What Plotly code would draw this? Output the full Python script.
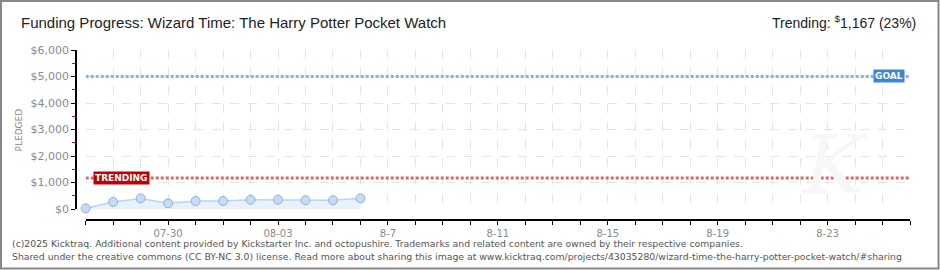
import plotly.graph_objects as go
import pandas as pd

# ---- data ----
dates = ["2025-07-27", "2025-07-28", "2025-07-29", "2025-07-30", "2025-07-31",
         "2025-08-01", "2025-08-02", "2025-08-03", "2025-08-04", "2025-08-05", "2025-08-06"]
pledged = [25, 265, 400, 215, 300, 300, 350, 350, 330, 330, 405]
goal = 5000
trending = 1167
x_start = "2025-07-27"
x_end = "2025-08-26"
label_dates = ["2025-07-30", "2025-08-03", "2025-08-07", "2025-08-11",
               "2025-08-15", "2025-08-19", "2025-08-23"]
label_texts = ["07-30", "08-03", "8-7", "8-11", "8-15", "8-19", "8-23"]
y_ticks = [0, 1000, 2000, 3000, 4000, 5000, 6000]
y_tick_labels = ["$0", "$1,000", "$2,000", "$3,000", "$4,000", "$5,000", "$6,000"]

W, H = 940, 270
px = lambda v: v / W
py = lambda v: 1 - v / H

all_days = pd.date_range(x_start, x_end, freq="D")
lab = dict(zip(pd.to_datetime(label_dates), label_texts))
tickvals = list(all_days)
ticktext = [lab.get(d, "") for d in all_days]

fig = go.Figure()
fig.add_trace(go.Scatter(
    x=dates, y=pledged, mode="lines+markers",
    line=dict(color="#b9d5f2", width=1.5),
    fill="tozeroy", fillcolor="rgba(214,232,252,0.55)",
    marker=dict(size=9, color="#c4dcf6", line=dict(color="#8cb1da", width=1)),
    cliponaxis=False, showlegend=False, hoverinfo="x+y"))

font_main = "DejaVu Sans, Verdana, sans-serif"
font_title = "Liberation Sans, Arial, sans-serif"

fig.update_layout(
    width=W, height=H, margin=dict(l=0, r=0, t=0, b=0, pad=0), autosize=False,
    paper_bgcolor="white", plot_bgcolor="white", showlegend=False,
    xaxis=dict(
        domain=[px(85.7), px(910)], range=[x_start, x_end],
        anchor="free", position=py(220), automargin=False,
        tickmode="array", tickvals=tickvals, ticktext=ticktext,
        ticks="outside", ticklen=4, tickcolor="black", tickwidth=1,
        showline=True, linecolor="black", linewidth=1.5,
        showgrid=True, gridcolor="#e4e4e4", griddash="dash", gridwidth=1,
        zeroline=False,
        tickfont=dict(family=font_main, size=10, color="#8a8a8a")),
    yaxis=dict(
        domain=[py(209), py(50)], range=[0, 6000],
        anchor="free", position=px(76), automargin=False,
        tickmode="array", tickvals=y_ticks, ticktext=y_tick_labels,
        ticks="outside", ticklen=4, tickcolor="black", tickwidth=1,
        showline=True, linecolor="black", linewidth=1.5,
        showgrid=True, gridcolor="#e4e4e4", griddash="dash", gridwidth=1,
        zeroline=False,
        minor=dict(tickmode="linear", tick0=500, dtick=1000, ticks="outside",
                   ticklen=3, tickcolor="#d01010", showgrid=False),
        tickfont=dict(family=font_main, size=11, color="#8a8a8a")),
)

# goal and trending reference lines
fig.add_shape(type="line", xref="x", yref="y", x0=x_start, x1=x_end, y0=goal, y1=goal,
              line=dict(color="#86b2e2", width=3, dash="3px,2px"))
fig.add_shape(type="line", xref="x", yref="y", x0=x_start, x1=x_end, y0=trending, y1=trending,
              line=dict(color="#d46a6a", width=3, dash="3px,2px"))

# border
fig.add_shape(type="rect", xref="paper", yref="paper", x0=px(1), x1=px(938.5),
              y0=py(268.5), y1=py(1), line=dict(color="#888888", width=2), layer="above")

# watermark
fig.add_annotation(xref="paper", yref="paper", x=px(870), y=py(165), text="<i>K</i>",
                   showarrow=False, font=dict(family="DejaVu Serif", size=80, color="#f7f7f7"))

# labels on the lines
fig.add_annotation(xref="paper", yref="y", x=px(905), y=goal, xanchor="right", yanchor="middle",
                   text="<b>GOAL</b>", showarrow=False, bgcolor="#3b87d7",
                   font=dict(family=font_main, size=9, color="white"), borderpad=1)
fig.add_annotation(xref="paper", yref="y", x=px(93), y=trending, xanchor="left", yanchor="middle",
                   text="<b>TRENDING</b>", showarrow=False, bgcolor="#c00000",
                   font=dict(family=font_main, size=9, color="white"), borderpad=1)

# y axis title
fig.add_annotation(xref="paper", yref="paper", x=px(18.5), y=py(130), text="PLEDGED",
                   textangle=-90, showarrow=False, xanchor="center", yanchor="middle",
                   font=dict(family=font_main, size=9, color="#8a8a8a"))

# title and trending text
fig.add_annotation(xref="paper", yref="paper", x=px(19), y=py(22), xanchor="left", yanchor="middle",
                   text="Funding Progress: Wizard Time: The Harry Potter Pocket Watch",
                   showarrow=False,
                   font=dict(family=font_title, size=15, color="#222222"))
fig.add_annotation(xref="paper", yref="paper", x=px(918), y=py(22), xanchor="right", yanchor="middle",
                   text="Trending: <sup>$</sup>1,167 (23%)", showarrow=False,
                   font=dict(family=font_title, size=14, color="#222222"))

# footer
fig.add_annotation(xref="paper", yref="paper", x=px(10), y=py(243), xanchor="left", yanchor="middle",
                   text="(c)2025 Kicktraq. Additional content provided by Kickstarter Inc. and octopushire. "
                        "Trademarks and related content are owned by their respective companies.",
                   showarrow=False, font=dict(family=font_main, size=9.3, color="#555555"))
fig.add_annotation(xref="paper", yref="paper", x=px(10), y=py(256), xanchor="left", yanchor="middle",
                   text="Shared under the creative commons (CC BY-NC 3.0) license. Read more about sharing this image at "
                        "www.kicktraq.com/projects/43035280/wizard-time-the-harry-potter-pocket-watch/#sharing",
                   showarrow=False, font=dict(family=font_main, size=9.3, color="#555555"))

fig.write_html("out.html")
